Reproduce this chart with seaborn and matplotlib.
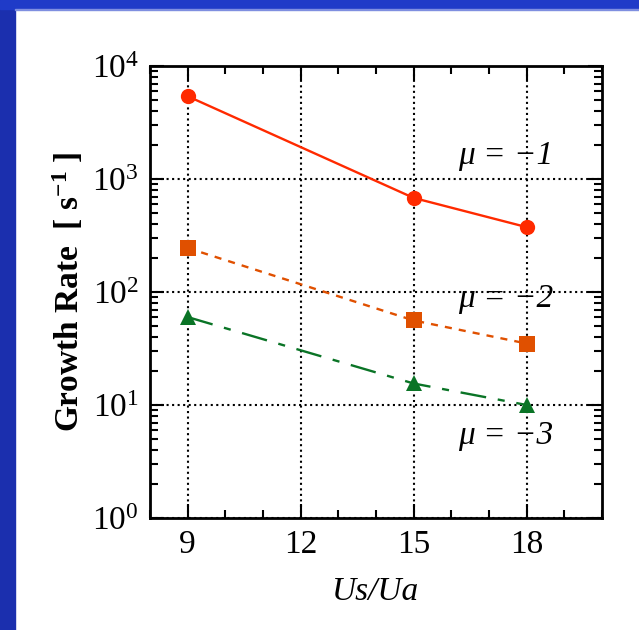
import numpy as np
import pandas as pd
import matplotlib.pyplot as plt
import seaborn as sns
from matplotlib.patches import Rectangle
from matplotlib.ticker import MultipleLocator, LogLocator, NullFormatter

# podaci ocitani sa slike
us_ua = [9, 15, 18]
rate_mu1 = [5400, 680, 375]
rate_mu2 = [245, 56, 35]
rate_mu3 = [60, 15.5, 10]
mu_labels = ['\u03bc = \u22121', '\u03bc = \u22122', '\u03bc = \u22123']

df = pd.DataFrame({
    'x': us_ua * 3,
    'rate': rate_mu1 + rate_mu2 + rate_mu3,
    'mu': [mu_labels[0]] * 3 + [mu_labels[1]] * 3 + [mu_labels[2]] * 3,
})

sns.set_style('ticks')
plt.rcParams['font.family'] = ['Liberation Serif', 'DejaVu Serif']
plt.rcParams['mathtext.fontset'] = 'custom'
plt.rcParams['mathtext.rm'] = 'Liberation Serif'
plt.rcParams['mathtext.it'] = 'Liberation Serif:italic'
plt.rcParams['mathtext.bf'] = 'Liberation Serif:bold'
plt.rcParams['mathtext.default'] = 'regular'
for k in ['text.color', 'axes.labelcolor', 'xtick.color', 'ytick.color', 'axes.edgecolor']:
    plt.rcParams[k] = 'black'

fig = plt.figure(figsize=[6.39, 6.30], dpi=100)
fig.patch.set_facecolor('white')
# plavi okvir lijevo i gore
fig.patches.append(Rectangle((0, 0), 15 / 639, 1, transform=fig.transFigure,
                             color='#1b2fae', zorder=0))
fig.patches.append(Rectangle((0, 1 - 9 / 630), 1, 9 / 630, transform=fig.transFigure,
                             color='#1f3bc8', zorder=0))
fig.patches.append(Rectangle((15 / 639, 1 - 10 / 630), 1, 1 / 630, transform=fig.transFigure,
                             color='#7f8fe0', zorder=0))

ax = fig.add_axes([150 / 639, 1 - 518 / 630, 452 / 639, 452 / 630])

pal = {mu_labels[0]: '#ff2a00', mu_labels[1]: '#e05000', mu_labels[2]: '#0a7426'}
mk = {mu_labels[0]: 'o', mu_labels[1]: 's', mu_labels[2]: '^'}
ds = {mu_labels[0]: '', mu_labels[1]: (3, 3), mu_labels[2]: (11, 5, 3, 5)}

sns.lineplot(data=df, x='x', y='rate', hue='mu', style='mu', palette=pal,
             markers=mk, dashes=ds, markersize=11, markeredgewidth=0,
             linewidth=1.7, legend=False, ax=ax, zorder=3)

ax.set_yscale('log')
ax.set_xlim(8, 20)
ax.set_ylim(1, 1e4)
ax.xaxis.set_major_locator(MultipleLocator(3))
ax.xaxis.set_minor_locator(MultipleLocator(1))
ax.yaxis.set_major_locator(LogLocator(base=10, numticks=10))
ax.yaxis.set_minor_locator(LogLocator(base=10, subs=np.arange(2, 10), numticks=10))
ax.yaxis.set_minor_formatter(NullFormatter())
ax.set_xticks([9, 12, 15, 18])

ax.tick_params(which='both', direction='in', top=True, right=True, width=1.5, labelsize=24)
ax.tick_params(which='major', length=10, pad=8)
ax.tick_params(which='minor', length=6)
for s in ax.spines.values():
    s.set_linewidth(2)
ax.grid(True, which='major', color='black', linestyle=':', linewidth=1.5)

ax.set_xlabel('Us/Ua', fontsize=24, style='italic', labelpad=12)
ax.set_ylabel('Growth Rate  [ s$^{-1}$ ]', fontsize=24, fontweight='bold', labelpad=4)

ax.text(17.45, 1600, mu_labels[0], fontsize=24, style='italic', ha='center', va='center')
ax.text(17.45, 87, mu_labels[1], fontsize=24, style='italic', ha='center', va='center')
ax.text(17.45, 5.3, mu_labels[2], fontsize=24, style='italic', ha='center', va='center')

fig.savefig('out.png', dpi=100)
